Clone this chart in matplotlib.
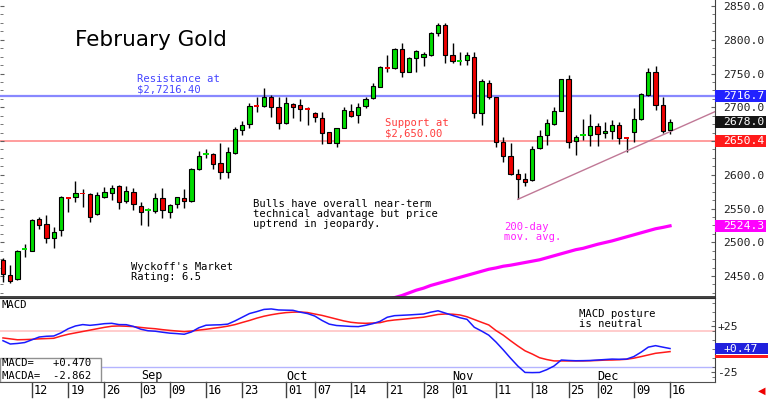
import numpy as np
import pandas as pd
import matplotlib
matplotlib.use('Agg')
import matplotlib.pyplot as plt
from matplotlib.patches import Rectangle
import matplotlib.transforms as mtransforms

# ---------------- data ----------------
holidays = ['2024-09-02', '2024-11-28']
dates = pd.bdate_range('2024-08-06', '2024-12-16')
dates = dates[~dates.isin(pd.to_datetime(holidays))]

opens = [2473.7, 2451.5, 2445.1, 2489.5, 2487.5, 2534.0, 2527.0, 2505.8, 2518.1, 2566.0,
         2566.5, 2573.0, 2571.0, 2541.9, 2567.5, 2573.5, 2583.3, 2561.1, 2574.9, 2553.7,
         2547.5, 2546.8, 2565.0, 2545.3, 2556.7, 2565.5, 2561.1, 2608.0, 2629.8, 2630.2,
         2616.9, 2604.6, 2631.7, 2666.3, 2675.2, 2702.9, 2701.9, 2715.7, 2700.9, 2676.2,
         2704.8, 2702.9, 2697.6, 2691.0, 2683.6, 2662.8, 2647.5, 2669.8, 2694.4, 2688.5,
         2701.9, 2713.2, 2730.5, 2758.6, 2757.7, 2785.8, 2752.7, 2772.5, 2774.0, 2777.4,
         2810.5, 2821.9, 2777.4, 2768.5, 2770.0, 2775.0, 2691.0, 2736.4, 2714.7, 2649.0,
         2627.8, 2601.1, 2593.2, 2592.2, 2639.1, 2658.9, 2675.2, 2694.4, 2741.4, 2650.0,
         2658.4, 2658.9, 2672.2, 2661.4, 2665.3, 2673.2, 2654.9, 2663.8, 2682.1, 2718.1,
         2752.7, 2703.3, 2666.3]
highs = [2476.0, 2466.3, 2488.5, 2496.9, 2534.4, 2537.9, 2540.4, 2522.1, 2568.5, 2567.5,
         2591.2, 2578.9, 2572.5, 2574.0, 2582.3, 2584.8, 2584.8, 2583.3, 2579.9, 2560.1,
         2550.2, 2573.5, 2579.9, 2556.7, 2567.5, 2578.4, 2609.5, 2635.7, 2638.1, 2632.7,
         2647.5, 2641.6, 2671.2, 2680.1, 2705.8, 2714.7, 2728.0, 2718.0, 2715.7, 2714.7,
         2705.8, 2712.2, 2699.9, 2693.5, 2693.5, 2663.8, 2669.8, 2699.9, 2704.8, 2705.8,
         2715.7, 2735.4, 2761.0, 2777.4, 2787.3, 2794.7, 2775.0, 2784.8, 2782.3, 2811.0,
         2824.3, 2824.3, 2795.7, 2782.3, 2782.3, 2782.3, 2741.4, 2740.4, 2715.7, 2655.4,
         2646.5, 2608.0, 2603.1, 2642.6, 2666.3, 2682.1, 2699.9, 2742.0, 2747.7, 2658.9,
         2682.1, 2690.0, 2676.2, 2678.6, 2681.1, 2678.6, 2656.4, 2699.4, 2720.6, 2758.6,
         2761.1, 2715.7, 2682.1]
lows = [2441.6, 2439.1, 2444.0, 2478.6, 2487.0, 2519.1, 2498.4, 2491.0, 2509.8, 2545.3,
        2560.1, 2552.7, 2529.5, 2541.0, 2565.0, 2562.6, 2548.8, 2557.6, 2547.8, 2525.6,
        2524.0, 2542.8, 2535.4, 2535.4, 2550.2, 2550.2, 2560.1, 2607.0, 2624.3, 2608.0,
        2593.2, 2595.7, 2630.2, 2658.9, 2668.8, 2693.5, 2701.0, 2686.0, 2667.3, 2675.0,
        2683.6, 2680.1, 2673.7, 2678.6, 2645.6, 2646.5, 2641.6, 2668.8, 2686.0, 2677.2,
        2698.4, 2711.7, 2730.0, 2752.7, 2757.0, 2745.3, 2752.0, 2752.7, 2761.1, 2776.4,
        2805.6, 2765.1, 2765.1, 2762.6, 2762.6, 2683.6, 2673.7, 2711.7, 2641.6, 2619.4,
        2600.0, 2563.6, 2583.3, 2591.0, 2637.7, 2644.1, 2673.7, 2694.0, 2639.1, 2629.3,
        2651.5, 2643.1, 2643.1, 2654.0, 2653.0, 2645.0, 2634.2, 2649.0, 2681.0, 2716.7,
        2695.9, 2662.3, 2660.4]
closes = [2453.0, 2442.6, 2487.5, 2490.0, 2533.0, 2525.6, 2506.8, 2514.7, 2567.5, 2564.5,
          2573.5, 2571.5, 2537.9, 2570.0, 2574.9, 2580.9, 2560.1, 2575.9, 2556.7, 2545.3,
          2548.3, 2565.0, 2547.8, 2555.2, 2566.5, 2561.1, 2608.0, 2627.8, 2630.8, 2615.9,
          2604.6, 2633.2, 2667.3, 2673.7, 2701.9, 2701.4, 2715.7, 2701.0, 2677.2, 2705.8,
          2700.9, 2697.9, 2696.5, 2685.1, 2662.3, 2647.5, 2668.8, 2695.9, 2687.5, 2700.9,
          2712.2, 2731.5, 2760.1, 2757.1, 2786.3, 2752.7, 2772.5, 2783.8, 2778.9, 2810.5,
          2821.9, 2777.4, 2769.0, 2769.0, 2777.4, 2691.0, 2738.9, 2715.7, 2649.0, 2627.8,
          2601.1, 2593.2, 2589.8, 2637.7, 2657.4, 2676.2, 2694.4, 2741.4, 2649.0, 2656.4,
          2659.0, 2672.2, 2660.4, 2664.8, 2673.7, 2654.0, 2654.0, 2682.1, 2719.1, 2752.7,
          2703.3, 2665.3, 2678.0]

ma_start = 53
ma200 = [2415, 2418, 2421, 2425, 2429, 2432, 2436, 2439, 2442, 2445,
         2448, 2451, 2454, 2457, 2460, 2462, 2464.5, 2466, 2468, 2470,
         2472, 2474, 2477, 2480, 2483, 2486, 2489, 2491, 2494, 2497,
         2499.5, 2502, 2505, 2508, 2511, 2514, 2517, 2520, 2522, 2524.3]

macd = [9, 5.4, 6, 7, 10, 13, 13.8, 14.1, 17.5, 22,
        25, 26.5, 25.7, 26.5, 27.5, 27.9, 26.5, 26.4, 24.5, 21.5,
        19.8, 19.3, 18.2, 17.2, 16.7, 16, 18.5, 23, 25.8, 26.1,
        26.3, 27, 30.5, 34.5, 38.5, 40.6, 43, 43.5, 42.4, 42.2,
        42, 40, 38.5, 35.8, 31, 27, 25.5, 25, 24.5, 24.3,
        25.7, 27.5, 30, 34.5, 36.2, 36.6, 37, 37.5, 38, 40,
        41.5, 39, 36.5, 34, 32.2, 23.6, 19.5, 15, 7.5, -1,
        -10, -18.5, -25.5, -25.7, -25.5, -22.5, -18.5, -12, -12.5, -12.8,
        -12.7, -12.5, -12, -11.5, -11, -11.2, -11, -8.3, -3.5, 2,
        3.6, 2, 0.47]
signal = [12, 11, 10, 10.2, 10.5, 11, 11.3, 11.6, 14, 16,
          17.5, 19, 20.5, 22, 23.5, 24.7, 25, 24.7, 24.3, 23.4,
          22.6, 22, 21, 20.2, 19.5, 18.8, 19.5, 20.5, 21.4, 22.5,
          23.5, 24.8, 26.5, 28.8, 31, 33.5, 35.6, 37.2, 38.5, 39.5,
          40, 40.2, 39.6, 38, 36.5, 34.5, 32.5, 30.5, 29, 28.2,
          27.9, 28.2, 28.6, 30.5, 31.5, 32.2, 33, 33.8, 34.5, 36,
          37.5, 38, 37.8, 37, 35, 32, 29, 26.1, 20, 15,
          9, 3.3, -2, -5.5, -9.5, -11.5, -13, -13, -13, -13,
          -13, -12.8, -12.5, -12.1, -12, -11.7, -11.2, -10, -8.3, -6.5,
          -4.7, -3.8, -2.862]

tick_dates = ['2024-08-12', '2024-08-19', '2024-08-26', '2024-09-03', '2024-09-09',
              '2024-09-16', '2024-09-23', '2024-10-01', '2024-10-07', '2024-10-14',
              '2024-10-21', '2024-10-28', '2024-11-01', '2024-11-11', '2024-11-18',
              '2024-11-25', '2024-12-02', '2024-12-09', '2024-12-16']
month_labels = ['Sep', 'Oct', 'Nov', 'Dec']
month_starts = ['2024-09-03', '2024-10-01', '2024-11-01', '2024-12-02']
price_ticks = [2450, 2500, 2550, 2600, 2650, 2700, 2750, 2800, 2850]
hidden_price_labels = [2650]   # covered by the support value box in the original
macd_ticks = [25, -25]
macd_tick_labels = ['+25', '-25']

resistance = 2716.7
support = 2650.4
last_price = 2678.0
ma_last = 2524.3
macd_last = 0.470
macda_last = -2.862
macd_upper, macd_lower = 20, -20
trend_x = [71, 98.2]
trend_y = [2563.6, 2693.5]

# ---------------- figure ----------------
W, H = 768, 399
fig = plt.figure(figsize=(W / 100, H / 100), dpi=100)
fig.patch.set_facecolor('white')
mono = 'DejaVu Sans Mono'
axw = 715 / W
ax = fig.add_axes([0, 1 - 297 / H, axw, 297 / H])
axm = fig.add_axes([0, 1 - 382 / H, axw, 84 / H])

x = np.arange(len(dates))
xlim = (-0.41, 98.2)
ax.set_xlim(*xlim)
ax.set_ylim(2418.9, 2858.9)
axm.set_xlim(*xlim)
axm.set_ylim(-35.9, 55.4)

# spines
for a in (ax, axm):
    a.spines['left'].set_visible(False)
    a.spines['right'].set_color('#404040')
    a.set_xticks([])
ax.spines['top'].set_visible(False)
ax.spines['bottom'].set_color('#303030')
ax.spines['bottom'].set_linewidth(1.3)
axm.spines['top'].set_color('#303030')
axm.spines['bottom'].set_color('#505050')

# main y axis
rfs = 8.2
ax.set_yticks(price_ticks)
ax.set_yticklabels(['' if v in hidden_price_labels else f'{v:.1f}' for v in price_ticks],
                   family=mono, fontsize=rfs, color='#202020')
ax.set_yticks(np.arange(2425, 2860, 12.5), minor=True)
ax.tick_params(axis='y', which='both', left=True, right=True, labelleft=False,
               labelright=True, direction='in', pad=6, color='#606060')
ax.tick_params(axis='y', which='major', length=3)
ax.tick_params(axis='y', which='minor', length=2)

# level lines
ax.axhline(resistance, color='#8888ff', lw=1.6, zorder=1)
ax.axhline(support, color='#ff8c8c', lw=1.2, zorder=1)

# candles
o = np.array(opens); c = np.array(closes)
up = c >= o
cols = np.where(up, '#00dd00', '#ee0000')
doji = np.abs(c - o) < 1.6
bottoms = np.where(doji, (o + c) / 2 - 1.2, np.minimum(o, c))
heights = np.where(doji, 2.4, np.abs(c - o))
ax.vlines(x, lows, highs, color='black', lw=1.0, zorder=2)
ax.bar(x[~doji], heights[~doji], bottom=bottoms[~doji], width=0.6,
       color=cols[~doji], edgecolor='black', linewidth=0.8, zorder=3)
ax.bar(x[doji], heights[doji], bottom=bottoms[doji], width=0.75,
       color=cols[doji], edgecolor='none', zorder=3)

# moving average and trendline
ax.plot(x[ma_start:ma_start + len(ma200)], ma200, color='#ff00ff', lw=2.3, zorder=2)
ax.plot(trend_x, trend_y, color='#c07896', lw=1.0, zorder=2, clip_on=False)

# right-side value boxes
def value_box(a, y, h, txt, fc, w):
    tr = mtransforms.blended_transform_factory(a.transAxes, a.transData)
    a.add_patch(Rectangle((1.0, y - h / 2), w, h, transform=tr, facecolor=fc,
                          edgecolor='none', clip_on=False, zorder=5))
    a.text(1.0 + 8 / 715, y, txt, transform=tr, color='white', fontsize=rfs,
           family=mono, va='center', ha='left', zorder=6, clip_on=False)

bw = 51 / 715
value_box(ax, resistance, 17.5, f'{resistance:.1f}', '#2222ff', bw)
value_box(ax, last_price, 17.5, f'{last_price:.1f}', '#151515', bw)
value_box(ax, support, 17.5, f'{support:.1f}', '#ff1a1a', bw)
value_box(ax, ma_last, 17.5, f'{ma_last:.1f}', '#ff00ff', bw)

# annotations main
tfs = 7.6
ax.text(75 / 715, 1 - 40 / 297, 'February Gold', transform=ax.transAxes,
        fontsize=15.5, family='DejaVu Sans', va='center', ha='left')
ax.text(137 / 715, 1 - 74 / 297, 'Resistance at\n$2,7216.40', transform=ax.transAxes,
        fontsize=tfs, family=mono, color='#4444ff', va='top', ha='left', linespacing=1.0)
ax.text(385 / 715, 1 - 118 / 297, 'Support at\n$2,650.00', transform=ax.transAxes,
        fontsize=tfs, family=mono, color='#ff3c3c', va='top', ha='left', linespacing=1.0)
ax.text(253 / 715, 1 - 199 / 297,
        'Bulls have overall near-term\ntechnical advantage but price\nuptrend in jeopardy.',
        transform=ax.transAxes, fontsize=tfs, family=mono, color='black',
        va='top', ha='left', linespacing=1.0)
ax.text(131 / 715, 1 - 262 / 297, "Wyckoff's Market\nRating: 6.5", transform=ax.transAxes,
        fontsize=tfs, family=mono, color='black', va='top', ha='left', linespacing=1.0)
ax.text(504 / 715, 1 - 222 / 297, '200-day\nmov. avg.', transform=ax.transAxes,
        fontsize=tfs, family=mono, color='#ff22ff', va='top', ha='left', linespacing=1.0)

# ---------------- MACD panel ----------------
axm.axhline(macd_upper, color='#ffc4c4', lw=1.2, zorder=1)
axm.axhline(macd_lower, color='#b4b4ff', lw=1.0, zorder=1)
axm.plot(x, signal, color='#ff1a1a', lw=1.1, zorder=3)
axm.plot(x, macd, color='#1a1aff', lw=1.1, zorder=3)

axm.yaxis.tick_right()
axm.set_yticks(macd_ticks)
axm.set_yticklabels(macd_tick_labels, family=mono, fontsize=rfs, color='#202020')
axm.set_yticks(np.arange(-30, 55, 10), minor=True)
axm.tick_params(axis='y', which='both', direction='in', pad=1.5, color='#606060')
axm.tick_params(axis='y', which='major', length=3)
axm.tick_params(axis='y', which='minor', length=2)

value_box(axm, 0.5, 13.0, f'{macd_last:+.2f}', '#2020dd', 53 / 715)
tr_m = mtransforms.blended_transform_factory(axm.transAxes, axm.transData)
axm.add_patch(Rectangle((1.0, -9.8), 53 / 715, 3.3, transform=tr_m, facecolor='#ff1a1a',
                        edgecolor='none', clip_on=False, zorder=5))

axm.text(2 / 715, 1 - 7 / 84, 'MACD', transform=axm.transAxes, fontsize=tfs,
         family=mono, va='center', ha='left')
axm.text(579 / 715, 1 - 11 / 84, 'MACD posture\nis neutral', transform=axm.transAxes,
         fontsize=tfs, family=mono, va='top', ha='left', linespacing=1.0)

axm.add_patch(Rectangle((0, 0), 101 / 715, 24 / 84, transform=axm.transAxes,
                        facecolor='white', edgecolor='#909090', lw=1.0, zorder=6))
axm.text(2 / 715, 18.5 / 84, f'MACD=   {macd_last:+.3f}', transform=axm.transAxes,
         fontsize=tfs, family=mono, va='center', ha='left', zorder=7)
axm.text(2 / 715, 6 / 84, f'MACDA=  {macda_last:+.3f}', transform=axm.transAxes,
         fontsize=tfs, family=mono, va='center', ha='left', zorder=7)

# date labels row
tr_x = mtransforms.blended_transform_factory(axm.transData, axm.transAxes)
tr_txt = mtransforms.offset_copy(tr_x, fig=fig, x=2, y=0, units='dots')
didx = {d.strftime('%Y-%m-%d'): k for k, d in enumerate(dates)}
for td in tick_dates:
    k = didx[td]
    axm.plot([k, k], [0, -15 / 84], transform=tr_x, color='#404040', lw=1.0, clip_on=False)
    axm.text(k, -8 / 84, td[-2:], transform=tr_txt, fontsize=8.5, family=mono,
             va='center', ha='left', clip_on=False)
for lab, ms in zip(month_labels, month_starts):
    k = didx[ms] + 1.5
    axm.text(k, 6 / 84, lab, transform=tr_x, fontsize=8.5, family=mono,
             va='center', ha='center')

fig.text(762 / W, 1 - 391 / H, '\u25C0', color='#ee0000', fontsize=7, ha='center', va='center')

fig.savefig('out.png', dpi=100, facecolor='white')
